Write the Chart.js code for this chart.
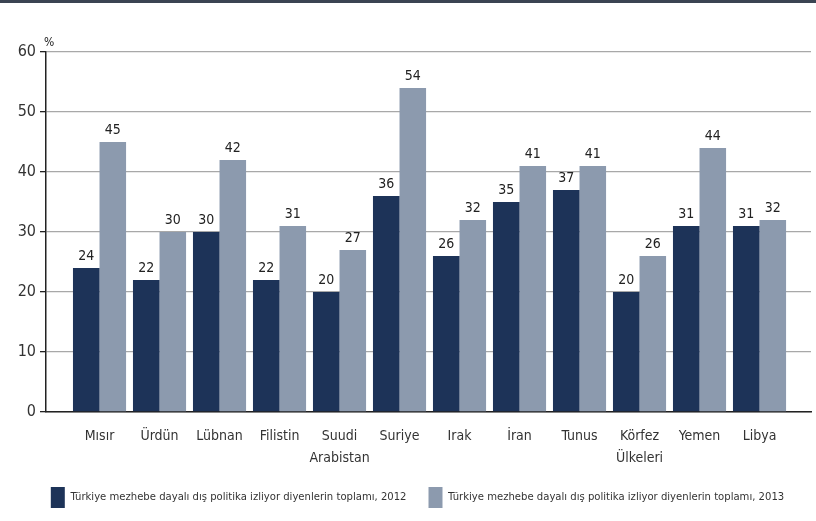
<!DOCTYPE html>
<html>
<head>
<meta charset="utf-8">
<script src="https://cdn.jsdelivr.net/npm/chart.js@4.4.1/dist/chart.umd.min.js"></script>
<style>
  html, body { margin: 0; padding: 0; background: #fff; }
  #wrap { position: relative; width: 816px; height: 521px; }
  #topline { position: absolute; left: 0; top: 0; width: 816px; height: 3px; background: #3b4452; }
  #c { position: absolute; left: 0; top: 0; }
</style>
</head>
<body>
<div id="wrap">
  <canvas id="c" width="816" height="521"></canvas>
  <div id="topline"></div>
</div>
<script>
// kategoriler ve seriler
const categories = ['Mısır', 'Ürdün', 'Lübnan', 'Filistin', ['Suudi', 'Arabistan'], 'Suriye',
  'Irak', 'İran', 'Tunus', ['Körfez', 'Ülkeleri'], 'Yemen', 'Libya'];
const values2012 = [24, 22, 30, 22, 20, 36, 26, 35, 37, 20, 31, 31];
const values2013 = [45, 30, 42, 31, 27, 54, 32, 41, 41, 26, 44, 32];
const yTicks = [0, 10, 20, 30, 40, 50, 60];
const label2012 = 'Türkiye mezhebe dayalı dış politika izliyor diyenlerin toplamı, 2012';
const label2013 = 'Türkiye mezhebe dayalı dış politika izliyor diyenlerin toplamı, 2013';

const FONT = "'DejaVu Sans Condensed', 'Liberation Sans Narrow', sans-serif";
const DARK = '#1d3358';
const LIGHT = '#8c9aae';

// etiketleri çubukların üstüne yaz
const valueLabels = {
  id: 'valueLabels',
  afterLayout(chart) {
    // lejantı biraz sağa kaydır
    chart.legend.left += 12;
    chart.legend.right += 12;
  },
  afterDatasetsDraw(chart) {
    const ctx = chart.ctx;
    ctx.save();
    ctx.fillStyle = '#222';
    ctx.font = '14px ' + FONT;
    ctx.textAlign = 'center';
    ctx.textBaseline = 'alphabetic';
    chart.data.datasets.forEach((ds, di) => {
      chart.getDatasetMeta(di).data.forEach((bar, i) => {
        ctx.fillText(String(ds.data[i].y), bar.x, bar.y - 8);
      });
    });
    // % işareti
    ctx.font = '12px ' + FONT;
    ctx.textAlign = 'left';
    ctx.fillText('%', chart.chartArea.left - 2, chart.chartArea.top - 6);
    ctx.restore();
  }
};

new Chart(document.getElementById('c'), {
  type: 'bar',
  data: {
    datasets: [
      {
        label: label2012,
        data: values2012.map((v, i) => ({ x: i, y: v })),
        backgroundColor: DARK,
        categoryPercentage: 0.885,
        barPercentage: 1.0
      },
      {
        label: label2013,
        data: values2013.map((v, i) => ({ x: i, y: v })),
        backgroundColor: LIGHT,
        categoryPercentage: 0.885,
        barPercentage: 1.0
      }
    ]
  },
  options: {
    responsive: false,
    animation: false,
    devicePixelRatio: 1,
    layout: { padding: { top: 52, right: 5, bottom: 3, left: 0 } },
    plugins: {
      tooltip: { enabled: false },
      legend: {
        position: 'bottom',
        labels: {
          color: '#333',
          boxWidth: 14,
          boxHeight: 21,
          padding: 22,
          font: { family: FONT, size: 11.2 }
        }
      }
    },
    scales: {
      x: {
        type: 'linear',
        min: -0.892,
        max: 11.858,
        offset: false,
        grid: { display: false, drawTicks: false },
        border: { display: true, color: '#222', width: 1.5 },
        afterBuildTicks: (s) => { s.ticks = categories.map((c, i) => ({ value: i })); },
        afterFit: (s) => { s.height = 53; },
        ticks: {
          autoSkip: false,
          maxRotation: 0,
          color: '#333',
          padding: 13,
          font: { family: FONT, size: 14, lineHeight: 1.6 },
          callback: (v) => categories[v]
        }
      },
      y: {
        min: 0,
        max: 60,
        afterBuildTicks: (s) => { s.ticks = yTicks.map(v => ({ value: v })); },
        afterFit: (s) => { s.width = 46; s.paddingTop = 0; s.paddingBottom = 0; },
        grid: { color: '#a8a8a8', lineWidth: 1.3, tickColor: '#222', tickLength: 6 },
        border: { display: true, color: '#222', width: 1.5 },
        ticks: {
          color: '#333',
          padding: 4,
          font: { family: FONT, size: 16 }
        }
      }
    }
  },
  plugins: [valueLabels]
});
</script>
</body>
</html>
